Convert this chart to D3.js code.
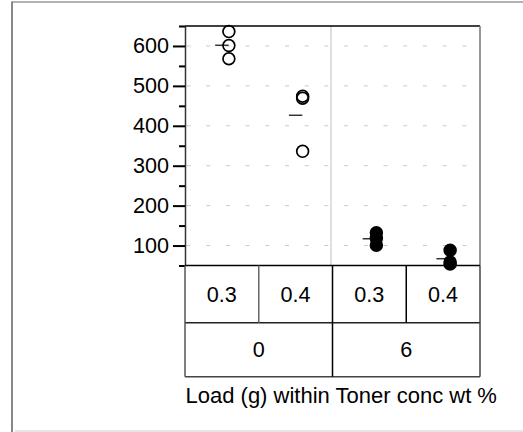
<!DOCTYPE html>
<html><head><meta charset="utf-8">
<script src="https://cdn.jsdelivr.net/npm/d3@7"></script>
<style>body{margin:0;background:#fff}svg{display:block;font-family:"Liberation Sans",Arial,sans-serif}</style>
</head><body><svg id="c" width="523" height="432"></svg>
<script>
const tonerLevels = ["0", "6"];
const loadLevels = ["0.3", "0.4"];
const groups = [
  {toner: "0", load: "0.3", values: [636, 601, 568], filled: false},
  {toner: "0", load: "0.4", values: [474, 469, 336], filled: false},
  {toner: "6", load: "0.3", values: [132, 118, 101], filled: true},
  {toner: "6", load: "0.4", values: [88, 59, 54], filled: true}
];
const yMajorTicks = [100, 200, 300, 400, 500, 600];
const yMinorTicks = [50, 150, 250, 350, 450, 550, 650];
const xTitle = "Load (g) within Toner conc wt %";

const svg = d3.select("#c");
const L = 185, R = 480, T = 26, B = 265.5;
const fs = 21.6;

// outer frame
svg.append("line").attr("x1",12).attr("x2",523).attr("y1",2).attr("y2",2).attr("stroke","#999").attr("stroke-width",1.5);
svg.append("line").attr("x1",12).attr("x2",12).attr("y1",1.5).attr("y2",432).attr("stroke","#888").attr("stroke-width",2);
svg.append("line").attr("x1",15).attr("x2",523).attr("y1",431).attr("y2",431).attr("stroke","#ddd").attr("stroke-width",1.5);

const y = d3.scaleLinear().domain([50, 650]).range([B, T]);
const x = d3.scaleBand().domain(groups.map(g => g.toner + "|" + g.load)).range([L, R]);
const xOuter = d3.scaleBand().domain(tonerLevels).range([L, R]);

// grid
const dashG = svg.append("g");
yMajorTicks.forEach(v => {
  dashG.append("line").attr("x1", L + 1.5).attr("x2", R).attr("y1", y(v)).attr("y2", y(v))
    .attr("stroke", "#c8c8c8").attr("stroke-width", 1).attr("stroke-dasharray", "4,15.7");
});
// group separator
svg.append("line").attr("x1", xOuter("6") - 1.5).attr("x2", xOuter("6") - 1.5).attr("y1", T).attr("y2", B)
  .attr("stroke", "#c0c0c0").attr("stroke-width", 1);

// y axis
const yAxis = d3.axisLeft(y).tickValues(yMajorTicks).tickSize(12).tickPadding(4).tickSizeOuter(0);
const ga = svg.append("g").attr("transform", `translate(${L},0)`).call(yAxis);
ga.selectAll("text").attr("font-size", fs).attr("fill", "#000").attr("font-family", '"Liberation Sans",Arial,sans-serif');
ga.selectAll("line").attr("stroke", "#000").attr("stroke-width", 2);
ga.select(".domain").attr("stroke", "#333").attr("stroke-width", 1.5);
const gm = svg.append("g").attr("transform", `translate(${L},0)`).call(d3.axisLeft(y).tickValues(yMinorTicks).tickSize(6).tickFormat("").tickSizeOuter(0));
gm.selectAll("line").attr("stroke", "#000").attr("stroke-width", 2);
gm.select(".domain").remove();

// plot borders
svg.append("line").attr("x1", L).attr("x2", R).attr("y1", T).attr("y2", T).attr("stroke", "#000").attr("stroke-width", 1.5);
svg.append("line").attr("x1", R).attr("x2", R).attr("y1", T).attr("y2", B).attr("stroke", "#777").attr("stroke-width", 1.5);

// means and points
groups.forEach(g => {
  const cx = x(g.toner + "|" + g.load) + x.bandwidth() / 2;
  const m = d3.mean(g.values);
  svg.append("line").attr("x1", cx - 6.7).attr("x2", cx + 6.7).attr("y1", y(m)).attr("y2", y(m))
    .attr("stroke", "#333").attr("stroke-width", 1.5);
  svg.selectAll(null).data(g.values).enter().append("circle")
    .attr("cx", cx + 7).attr("cy", d => y(d)).attr("r", 5.9)
    .attr("fill", g.filled ? "#000" : "none").attr("stroke", "#000").attr("stroke-width", 1.7);
});

// table
const r1 = B, r2 = 322.7, r3 = 376.7;
const tl = svg.append("g").attr("stroke-width", 1.5).attr("fill", "none");
tl.append("line").attr("x1", L).attr("x2", R).attr("y1", r1).attr("y2", r1).attr("stroke", "#000");
tl.append("line").attr("x1", L).attr("x2", R).attr("y1", r2).attr("y2", r2).attr("stroke", "#222");
tl.append("line").attr("x1", L).attr("x2", R).attr("y1", r3).attr("y2", r3).attr("stroke", "#444");
tl.append("line").attr("x1", L).attr("x2", L).attr("y1", r1).attr("y2", r3).attr("stroke", "#555");
tl.append("line").attr("x1", R).attr("x2", R).attr("y1", r1).attr("y2", r3).attr("stroke", "#444");
groups.forEach((g, i) => {
  const x0 = x(g.toner + "|" + g.load);
  if (i > 0) tl.append("line").attr("x1", x0).attr("x2", x0).attr("y1", r1).attr("y2", i === 2 ? r3 : r2)
    .attr("stroke", i === 1 ? "#666" : "#000");
  svg.append("text").attr("x", x0 + x.bandwidth() / 2).attr("y", (r1 + r2) / 2).attr("dy", "0.35em")
    .attr("text-anchor", "middle").attr("font-size", fs).text(g.load);
});
tonerLevels.forEach(t => {
  svg.append("text").attr("x", xOuter(t) + xOuter.bandwidth() / 2).attr("y", (r2 + r3) / 2).attr("dy", "0.35em")
    .attr("text-anchor", "middle").attr("font-size", fs).text(t);
});
svg.append("text").attr("x", 185.5).attr("y", 403).attr("font-size", 22).text(xTitle);
</script></body></html>
